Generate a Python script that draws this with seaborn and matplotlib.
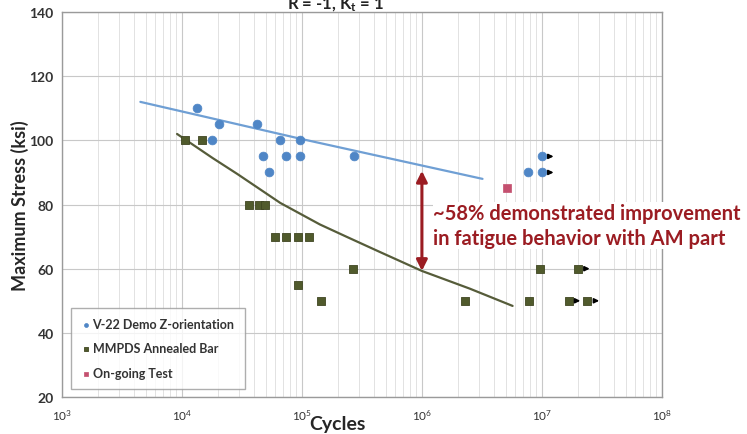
import matplotlib
matplotlib.use("Agg")
import matplotlib.pyplot as plt
from matplotlib.ticker import LogLocator, FixedLocator, NullFormatter
import pandas as pd
import seaborn as sns

# V-22 demo parts, Z-orientation (AM)
am_cycles = [13300, 20500, 17800, 42000, 47000, 53000, 66000, 74000,
             97000, 97000, 270000, 1.0e7, 7.6e6, 1.0e7]
am_stress = [110, 105, 100, 105, 95, 90, 100, 95, 100, 95, 95, 95, 90, 90]
am_runout = [0, 0, 0, 0, 0, 0, 0, 0, 0, 0, 0, 1, 0, 1]

# MMPDS annealed bar
mm_cycles = [10700, 14700, 36000, 44000, 49000, 60000, 74000, 93000, 115000,
             93000, 144000, 268000, 2.3e6, 7.8e6, 9.6e6, 2.0e7, 1.67e7, 2.4e7]
mm_stress = [100, 100, 80, 80, 80, 70, 70, 70, 70, 55, 50, 60, 50, 50, 60,
             60, 50, 50]
mm_runout = [0, 0, 0, 0, 0, 0, 0, 0, 0, 0, 0, 0, 0, 0, 0, 1, 1, 1]

# on-going test
og_cycles = [5.1e6]
og_stress = [85]

# trend curves
am_fit_cycles = [4500, 1.0e5, 3.2e6]
am_fit_stress = [112, 100.4, 88]
mm_fit_cycles = [9100, 18000, 29000, 66000, 141000, 234000, 447000, 1.0e6,
                 2.5e6, 5.7e6]
mm_fit_stress = [102, 94.5, 89.5, 80.5, 73.8, 70.0, 65.2, 59.3, 53.8, 48.4]

# improvement arrow at 1e6 cycles
arrow_cycles = 1.0e6
arrow_top = 90.5
arrow_bottom = 59.3

x_ticks = [1e3, 1e4, 1e5, 1e6, 1e7, 1e8]
x_tick_labels = ["10$^3$", "10$^4$", "10$^5$", "10$^6$", "10$^7$", "10$^8$"]
y_ticks = [20, 40, 60, 80, 100, 120, 140]

blue = "#4f86c6"
blue_line = "#6f9fd4"
olive = "#505a2c"
olive_line = "#565c3a"
pink = "#c4506f"
dark_red = "#9b1c22"

sns.set_style("whitegrid")
plt.rcParams["font.family"] = ["Lato", "DejaVu Sans"]
plt.rcParams["mathtext.fontset"] = "custom"
plt.rcParams["mathtext.rm"] = "Lato"
plt.rcParams["mathtext.it"] = "Lato:bold"

am = pd.DataFrame({"cycles": am_cycles, "stress": am_stress, "runout": am_runout})
mm = pd.DataFrame({"cycles": mm_cycles, "stress": mm_stress, "runout": mm_runout})
og = pd.DataFrame({"cycles": og_cycles, "stress": og_stress})
am_fit = pd.DataFrame({"cycles": am_fit_cycles, "stress": am_fit_stress})
mm_fit = pd.DataFrame({"cycles": mm_fit_cycles, "stress": mm_fit_stress})

fig = plt.figure(figsize=(7.47, 4.35), dpi=100)
ax = fig.add_axes([0.083, 0.085, 0.803, 0.885])

ax.set_xscale("log")

sns.lineplot(data=am_fit, x="cycles", y="stress", ax=ax, color=blue_line,
             linewidth=1.6, legend=False)
sns.lineplot(data=mm_fit, x="cycles", y="stress", ax=ax, color=olive_line,
             linewidth=1.6, legend=False)

sns.scatterplot(data=am, x="cycles", y="stress", ax=ax, color=blue,
                marker="o", s=40, edgecolor=blue, linewidth=0.5,
                label="V-22 Demo Z-orientation", zorder=4)
sns.scatterplot(data=mm, x="cycles", y="stress", ax=ax, color=olive,
                marker="s", s=40, edgecolor="#3f4622", linewidth=0.6,
                label="MMPDS Annealed Bar", zorder=4)
sns.scatterplot(data=og, x="cycles", y="stress", ax=ax, color=pink,
                marker="s", s=34, edgecolor=pink, linewidth=0.5,
                label="On-going Test", zorder=8)

# run-out arrows
for df in (am, mm):
    for _, row in df[df["runout"] == 1].iterrows():
        ax.annotate("", xy=(row["cycles"] * 1.32, row["stress"]),
                    xytext=(row["cycles"] * 1.08, row["stress"]),
                    arrowprops=dict(arrowstyle="-|>", color="black", lw=1.2,
                                    mutation_scale=7),
                    zorder=5)

# improvement arrow
ax.annotate("", xy=(arrow_cycles, arrow_top), xytext=(arrow_cycles, arrow_bottom),
            arrowprops=dict(arrowstyle="<|-|>", color=dark_red, lw=2.2,
                            mutation_scale=16, shrinkA=0, shrinkB=0),
            zorder=6)
fig.text(0.58, 0.479, "~58% demonstrated improvement\nin fatigue behavior with AM part",
         color=dark_red, fontsize=14.5, fontweight="bold", ha="left", va="center",
         linespacing=1.35,
         bbox=dict(facecolor="white", edgecolor="none", pad=0.5), zorder=7)

ax.set_xlim(1e3, 1e8)
ax.set_ylim(20, 140)
ax.set_xticks(x_ticks)
ax.set_xticklabels(x_tick_labels, fontsize=8.5, color="#333333")
ax.xaxis.set_minor_locator(LogLocator(base=10, subs=range(2, 10), numticks=20))
ax.xaxis.set_minor_formatter(NullFormatter())
ax.yaxis.set_major_locator(FixedLocator(y_ticks))
ax.tick_params(axis="y", labelsize=10, labelcolor="#333333", length=5,
               direction="inout", color="#777777")
ax.tick_params(axis="x", which="major", length=7, direction="inout",
               color="#777777", pad=4)
ax.tick_params(axis="x", which="minor", length=0)
for lbl in ax.get_yticklabels():
    lbl.set_fontweight("bold")

ax.grid(which="major", color="#c8c8c8", linewidth=0.8)
ax.grid(which="minor", axis="x", color="#dddddd", linewidth=0.6)
ax.grid(which="minor", axis="y", visible=False)
for spine in ax.spines.values():
    spine.set_color("#9a9a9a")
    spine.set_linewidth(1.0)

ax.set_xlabel("Cycles", fontsize=14, fontweight="bold", va="center")
ax.xaxis.set_label_coords(0.46, -0.068)
ax.set_ylabel("Maximum Stress (ksi)", fontsize=13, fontweight="bold", va="center")
ax.yaxis.set_label_coords(-0.07, 0.5)

fig.text(0.449, 0.99, "R = -1, K$_t$ = 1", fontsize=12, fontweight="bold",
         ha="center", va="center", color="#222222")

leg = ax.legend(loc="lower left", bbox_to_anchor=(0.005, 0.005), fontsize=9,
                frameon=True, fancybox=False, edgecolor="#9a9a9a",
                markerscale=0.45, handletextpad=0.1, labelspacing=1.0,
                borderpad=0.8, handlelength=0.8)
leg.get_frame().set_linewidth(1.0)
for t in leg.get_texts():
    t.set_fontweight("bold")
    t.set_color("#333333")

fig.savefig("out.png", dpi=100)
plt.close(fig)
